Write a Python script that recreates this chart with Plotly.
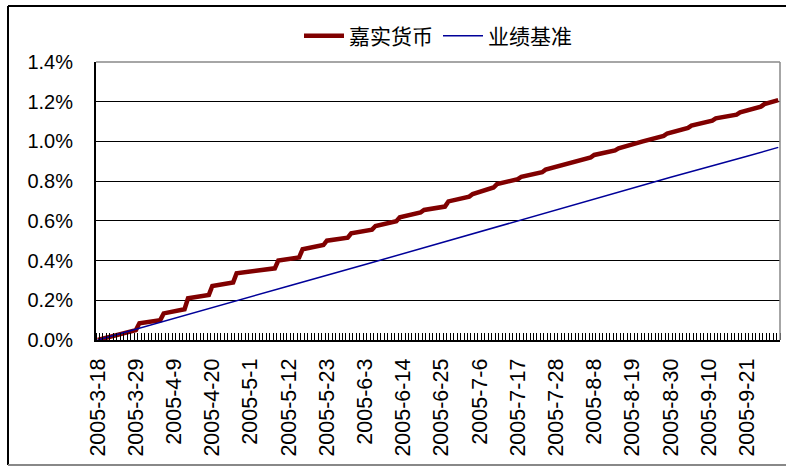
import plotly.graph_objects as go

# ---- data ----
series_names = ["嘉实货币", "业绩基准"]

fund_dates = [
    "2005-03-18", "2005-03-29", "2005-03-30", "2005-04-05", "2005-04-06",
    "2005-04-12", "2005-04-13", "2005-04-19", "2005-04-20", "2005-04-26",
    "2005-04-27", "2005-05-08", "2005-05-09", "2005-05-15", "2005-05-16",
    "2005-05-22", "2005-05-23", "2005-05-29", "2005-05-30", "2005-06-05",
    "2005-06-06", "2005-06-12", "2005-06-13", "2005-06-19", "2005-06-20",
    "2005-06-26", "2005-06-27", "2005-07-03", "2005-07-04", "2005-07-10",
    "2005-07-11", "2005-07-17", "2005-07-18", "2005-07-24", "2005-07-25",
    "2005-07-31", "2005-08-01", "2005-08-07", "2005-08-08", "2005-08-14",
    "2005-08-15", "2005-08-21", "2005-08-22", "2005-08-28", "2005-08-29",
    "2005-09-04", "2005-09-05", "2005-09-11", "2005-09-12", "2005-09-18",
    "2005-09-19", "2005-09-25", "2005-09-26", "2005-09-30",
]
fund_values = [
    0.000, 0.050, 0.084, 0.100, 0.134,
    0.155, 0.210, 0.227, 0.272, 0.290,
    0.336, 0.361, 0.400, 0.416, 0.457,
    0.478, 0.500, 0.515, 0.537, 0.556,
    0.574, 0.598, 0.618, 0.643, 0.655,
    0.672, 0.698, 0.722, 0.735, 0.768,
    0.785, 0.810, 0.822, 0.845, 0.858,
    0.885, 0.895, 0.920, 0.932, 0.955,
    0.965, 0.990, 1.000, 1.028, 1.040,
    1.068, 1.080, 1.105, 1.116, 1.135,
    1.146, 1.175, 1.188, 1.208,
]

bench_dates = [
    "2005-03-18", "2005-03-29", "2005-04-20", "2005-05-12", "2005-06-03",
    "2005-06-25", "2005-07-17", "2005-08-08", "2005-08-30", "2005-09-21",
    "2005-09-30",
]
bench_values = [
    0.000, 0.055, 0.165, 0.272, 0.380,
    0.490, 0.600, 0.710, 0.820, 0.925,
    0.970,
]

y_ticks = [0.0, 0.2, 0.4, 0.6, 0.8, 1.0, 1.2, 1.4]
y_ticktext = ["0.0%", "0.2%", "0.4%", "0.6%", "0.8%", "1.0%", "1.2%", "1.4%"]

x_first_label = "2005-03-18"
x_range = ["2005-03-17 12:00", "2005-09-30 12:00"]
DAY_MS = 86400000

FONT = "Liberation Sans, Arial, Noto Sans CJK SC, sans-serif"
RED = "#800000"
BLUE = "#000099"

fig = go.Figure()
fig.add_trace(go.Scatter(
    x=fund_dates, y=fund_values, name=series_names[0], mode="lines",
    line=dict(color=RED, width=4.5),
))
fig.add_trace(go.Scatter(
    x=bench_dates, y=bench_values, name=series_names[1], mode="lines",
    line=dict(color=BLUE, width=1.5),
))

# plot area pixel geometry
L, R, T, B = 96, 6, 62, 128
W, H = 786, 468
pw, ph = W - L - R, H - T - B


def px_x(p):
    return (p - L) / pw


def px_y(q):
    return (H - B - q) / ph


shapes = [
    # outer chart border (top/left black, bottom gray)
    dict(type="line", xref="paper", yref="paper", x0=px_x(8), x1=px_x(800),
         y0=px_y(6), y1=px_y(6), line=dict(color="black", width=2)),
    dict(type="line", xref="paper", yref="paper", x0=px_x(8), x1=px_x(8),
         y0=px_y(6), y1=px_y(465), line=dict(color="black", width=2)),
    dict(type="line", xref="paper", yref="paper", x0=px_x(8), x1=px_x(800),
         y0=px_y(465), y1=px_y(465), line=dict(color="#888888", width=2)),
    # plot area frame top / right in gray
    dict(type="line", xref="paper", yref="paper", x0=0, x1=1, y0=1, y1=1,
         line=dict(color="#888888", width=1.5)),
    dict(type="line", xref="paper", yref="paper", x0=1, x1=1, y0=0, y1=1,
         line=dict(color="#888888", width=1.5)),
]

fig.update_layout(
    width=W, height=H,
    margin=dict(l=L, r=R, t=T, b=B, pad=0),
    paper_bgcolor="white", plot_bgcolor="white",
    font=dict(family=FONT, color="black"),
    showlegend=True,
    legend=dict(orientation="h", x=0.5, xanchor="center", y=px_y(36),
                yanchor="middle", font=dict(size=21, family=FONT),
                bgcolor="rgba(0,0,0,0)", itemwidth=40, tracegroupgap=0),
    shapes=shapes,
    xaxis=dict(
        type="date", range=x_range,
        tick0=x_first_label, dtick=11 * DAY_MS, tickformat="%Y-%-m-%-d",
        tickangle=-90, ticks="", ticklabelstandoff=8,
        tickfont=dict(size=21.5, family=FONT),
        showgrid=False, zeroline=False,
        showline=True, linecolor="black", linewidth=2,
        minor=dict(ticks="inside", ticklen=7, tickwidth=1, tickcolor="black",
                   dtick=DAY_MS, tick0="2005-03-17 12:00", showgrid=False),
    ),
    yaxis=dict(
        range=[0, 1.4], tickvals=y_ticks, ticktext=y_ticktext,
        tickfont=dict(size=20, family=FONT),
        ticks="", ticklabelstandoff=17,
        showgrid=True, gridcolor="black", gridwidth=1,
        zeroline=False, showline=True, linecolor="black", linewidth=2,
    ),
)

fig.write_html("out.html")
